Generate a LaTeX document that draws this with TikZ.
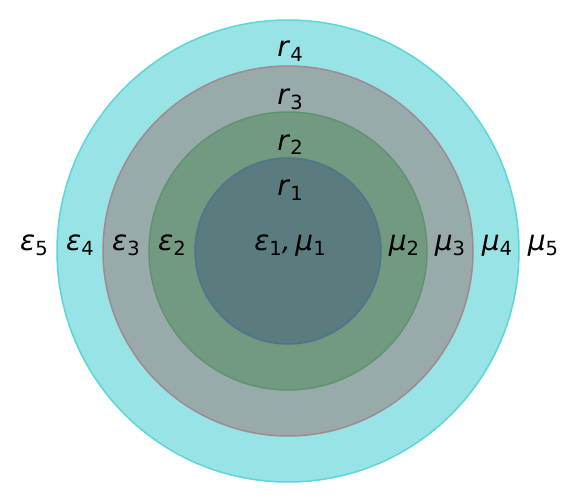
\documentclass[tikz,border=0pt]{standalone}
\usepackage{fontspec}
\newfontfamily\dv{DejaVu Sans}
\definecolor{c4f}{HTML}{98E3E5}\definecolor{c4e}{HTML}{5CD6D6}
\definecolor{c3f}{HTML}{98ABAA}\definecolor{c3e}{HTML}{A08A90}
\definecolor{c2f}{HTML}{729A80}\definecolor{c2e}{HTML}{5E9470}
\definecolor{c1f}{HTML}{5A7C7E}\definecolor{c1e}{HTML}{4E7490}
\newcommand\lab[2]{\textit{#1}\raisebox{-0.3ex}{\fontsize{19.5}{19.5}\selectfont #2}}
\tikzset{ring/.style={line width=1.5pt},
  lbl/.style={anchor=base,inner sep=0pt,font=\dv\fontsize{28}{28}\selectfont}}
\begin{document}
\begin{tikzpicture}[x=1pt,y=-1pt]
\useasboundingbox (0,0) rectangle (582,503);
\coordinate (o) at (288,251);
\draw[ring,fill=c4f,draw=c4e] (o) circle (231);
\draw[ring,fill=c3f,draw=c3e] (o) circle (185);
\draw[ring,fill=c2f,draw=c2e] (o) circle (139);
\draw[ring,fill=c1f,draw=c1e] (o) circle (93);
\node[lbl] (r4) at (290,57) {\lab{r}{4}};
\node[lbl] (r3) at (290,105) {\lab{r}{3}};
\node[lbl] (r2) at (290,150) {\lab{r}{2}};
\node[lbl] (r1) at (290,196) {\lab{r}{1}};
\node[lbl] (e5) at (34,251) {\lab{ε}{5}};
\node[lbl] (e4) at (80,251) {\lab{ε}{4}};
\node[lbl] (e3) at (126,251) {\lab{ε}{3}};
\node[lbl] (e2) at (172,251) {\lab{ε}{2}};
\node[lbl] (e1) at (290,251) {\lab{ε}{1}\textit{,}\,\lab{μ}{1}};
\node[lbl] (m2) at (404,251) {\lab{μ}{2}};
\node[lbl] (m3) at (450,251) {\lab{μ}{3}};
\node[lbl] (m4) at (497,251) {\lab{μ}{4}};
\node[lbl] (m5) at (543,251) {\lab{μ}{5}};
\end{tikzpicture}
\end{document}
